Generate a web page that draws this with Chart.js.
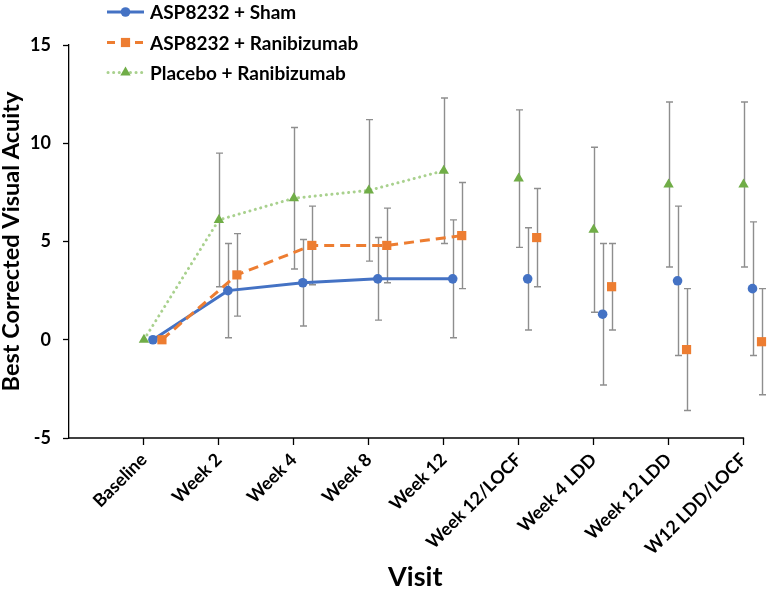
<!DOCTYPE html>
<html>
<head>
<meta charset="utf-8">
<script src="https://cdn.jsdelivr.net/npm/chart.js@4.4.1/dist/chart.umd.min.js"></script>
<style>
html,body{margin:0;padding:0;background:#fff;}
#wrap{width:768px;height:589px;position:relative;}
</style>
</head>
<body>
<div id="wrap"><canvas id="c" width="768" height="589"></canvas></div>
<script>
// ---- data ----
const categories = ['Baseline','Week 2','Week 4','Week 8','Week 12','Week 12/LOCF','Week 4 LDD','Week 12 LDD','W12 LDD/LOCF'];
const seriesNames = ['ASP8232 + Sham','ASP8232 + Ranibizumab','Placebo + Ranibizumab'];

const shamMean  = [0, 2.5, 2.9, 3.1, 3.1, 3.1, 1.3, 3.0, 2.6];
const shamLow   = [null, 0.1, 0.7, 1.0, 0.1, 0.5, -2.3, -0.8, -0.8];
const shamHigh  = [null, 4.9, 5.1, 5.2, 6.1, 5.7, 4.9, 6.8, 6.0];

const raniMean  = [0, 3.3, 4.8, 4.8, 5.3, 5.2, 2.7, -0.5, -0.1];
const raniLow   = [null, 1.2, 2.8, 2.9, 2.6, 2.7, 0.5, -3.6, -2.8];
const raniHigh  = [null, 5.4, 6.8, 6.7, 8.0, 7.7, 4.9, 2.6, 2.6];

const placeboMean = [0, 6.1, 7.2, 7.6, 8.6, 8.2, 5.6, 7.9, 7.9];
const placeboLow  = [null, 2.7, 3.6, 4.0, 4.9, 4.7, 1.4, 3.7, 3.7];
const placeboHigh = [null, 9.5, 10.8, 11.2, 12.3, 11.7, 9.8, 12.1, 12.1];

const yTicks = [-5, 0, 5, 10, 15];
const connectedVisits = 5; // Baseline..Week 12 are joined by lines

// ---- style ----
const FONT = 'Lato';
const X_OVERHANG = 0.24; // plot area continues a little past the last visit
const styles = [
  {color:'#4472C4', lineColor:'#4472C4', dash:[], cap:'butt', point:'circle', r:4.8, shift:0.12},
  {color:'#ED7D31', lineColor:'#ED7D31', dash:[10,6], cap:'butt', point:'rect', r:6.5, shift:0.24},
  {color:'#70AD47', lineColor:'#A9D18E', dash:[0.1,5.5], cap:'round', point:'triangle', r:6, shift:0}
];

function toPoints(mean, shift){ return mean.map((v,i)=>({x:i+1+shift, y:v})); }

const seriesData = [
  {mean:shamMean, low:shamLow, high:shamHigh},
  {mean:raniMean, low:raniLow, high:raniHigh},
  {mean:placeboMean, low:placeboLow, high:placeboHigh}
];

const datasets = seriesData.map((s,k)=>{
  const st = styles[k];
  return {
    label: seriesNames[k],
    data: toPoints(s.mean, st.shift),
    errLow: s.low, errHigh: s.high,
    borderColor: st.lineColor,
    backgroundColor: st.color,
    borderWidth: 3,
    borderDash: st.dash,
    borderCapStyle: st.cap,
    pointStyle: st.point,
    pointRadius: st.r,
    pointHoverRadius: st.r,
    pointBorderWidth: 0,
    pointBackgroundColor: st.color,
    pointBorderColor: st.color,
    tension: 0,
    clip: false,
    order: 3 - k,
    segment: {
      borderColor: ctx => ctx.p1DataIndex >= connectedVisits ? 'rgba(0,0,0,0)' : st.lineColor
    }
  };
});

function drawMarker(ctx, style, x, y, r, color){
  ctx.save();
  ctx.fillStyle = color;
  ctx.beginPath();
  if (style === 'circle') {
    ctx.arc(x, y, r, 0, Math.PI*2);
  } else if (style === 'rect') {
    const s = Math.SQRT1_2 * r;
    ctx.rect(x-s, y-s, 2*s, 2*s);
  } else if (style === 'triangle') {
    const a = Math.PI/180;
    ctx.moveTo(x, y - r);
    ctx.lineTo(x + Math.sin(120*a)*r, y - Math.cos(120*a)*r);
    ctx.lineTo(x + Math.sin(240*a)*r, y - Math.cos(240*a)*r);
    ctx.closePath();
  }
  ctx.fill();
  ctx.restore();
}

const errorBarPlugin = {
  id: 'errorBars',
  beforeDatasetsDraw(chart){
    const ctx = chart.ctx, xs = chart.scales.x, ys = chart.scales.y;
    ctx.save();
    // x axis line: from the y axis to the last visit
    ctx.strokeStyle = '#000';
    ctx.lineWidth = 1.3;
    ctx.beginPath();
    const ay = ys.getPixelForValue(yTicks[0]);
    ctx.moveTo(xs.getPixelForValue(0), ay);
    ctx.lineTo(xs.getPixelForValue(categories.length) + 0.6, ay);
    ctx.stroke();
    // error bars
    ctx.strokeStyle = '#8e8e8e';
    ctx.lineWidth = 1.4;
    chart.data.datasets.forEach(ds=>{
      ds.errLow.forEach((lo,i)=>{
        if (lo === null) return;
        const hi = ds.errHigh[i];
        const px = Math.round(xs.getPixelForValue(ds.data[i].x)) + 0.5;
        const y1 = ys.getPixelForValue(lo), y2 = ys.getPixelForValue(hi);
        ctx.beginPath();
        ctx.moveTo(px, y1); ctx.lineTo(px, y2);
        ctx.moveTo(px-3.5, y1); ctx.lineTo(px+3.5, y1);
        ctx.moveTo(px-3.5, y2); ctx.lineTo(px+3.5, y2);
        ctx.stroke();
      });
    });
    ctx.restore();
  }
};

const legendPlugin = {
  id: 'customLegend',
  afterDraw(chart){
    const ctx = chart.ctx;
    const rows = [12, 42.5, 72.5];
    chart.data.datasets.forEach((ds,k)=>{
      const st = styles[k];
      const y = rows[k];
      ctx.save();
      ctx.strokeStyle = st.lineColor;
      ctx.lineWidth = 3;
      ctx.lineCap = st.cap;
      if (k === 1) ctx.setLineDash([8,6]);
      else if (k === 2) ctx.setLineDash([0.1,5.5]);
      ctx.beginPath();
      ctx.moveTo(k===2 ? 108 : 107, y); ctx.lineTo(144, y);
      ctx.stroke();
      ctx.restore();
      drawMarker(ctx, st.point, 125.5, y, st.r, st.color);
      ctx.save();
      ctx.fillStyle = '#000';
      ctx.font = 'bold 19px ' + FONT;
      ctx.textBaseline = 'middle';
      ctx.textAlign = 'left';
      ctx.fillText(ds.label, 150, y + 1);
      ctx.restore();
    });
  }
};

new Chart(document.getElementById('c'), {
  type: 'line',
  data: { datasets },
  options: {
    responsive: false,
    animation: false,
    devicePixelRatio: 1,
    layout: { padding: { left: 0, top: 45, right: 0, bottom: 0 } },
    plugins: { legend: { display: false }, tooltip: { enabled: false } },
    scales: {
      x: {
        type: 'linear',
        min: 0, max: categories.length + X_OVERHANG,
        afterBuildTicks: s => { s.ticks = categories.map((c,i)=>({value:i+1})); },
        afterFit: s => { s.height = 151; },
        ticks: {
          autoSkip: false,
          minRotation: 45, maxRotation: 45,
          color: '#000',
          padding: 4,
          font: { family: FONT, size: 18, weight: 'bold' },
          callback: v => categories[v-1] ?? ''
        },
        grid: { drawOnChartArea: false, tickLength: 7, tickColor: '#000', tickWidth: 1.3 },
        border: { display: false },
        title: {
          display: true, text: 'Visit', color: '#000',
          font: { family: FONT, size: 27, weight: 'bold', lineHeight: 0.9 },
          padding: { top: 0, bottom: 0 }
        }
      },
      y: {
        min: -5, max: 15,
        afterBuildTicks: s => { s.ticks = yTicks.map(v=>({value:v})); },
        afterFit: s => { s.width = 69; },
        ticks: {
          color: '#000', padding: 12,
          font: { family: FONT, size: 18, weight: 'bold' }
        },
        grid: { drawOnChartArea: false, tickLength: 6, tickColor: '#000', tickWidth: 1.3 },
        border: { color: '#000', width: 1.3 },
        title: {
          display: true, text: 'Best Corrected Visual Acuity', color: '#000',
          font: { family: FONT, size: 23.5, weight: 'bold', lineHeight: 1 },
          padding: { top: 0, bottom: 0 }
        }
      }
    }
  },
  plugins: [errorBarPlugin, legendPlugin]
});
</script>
</body>
</html>
